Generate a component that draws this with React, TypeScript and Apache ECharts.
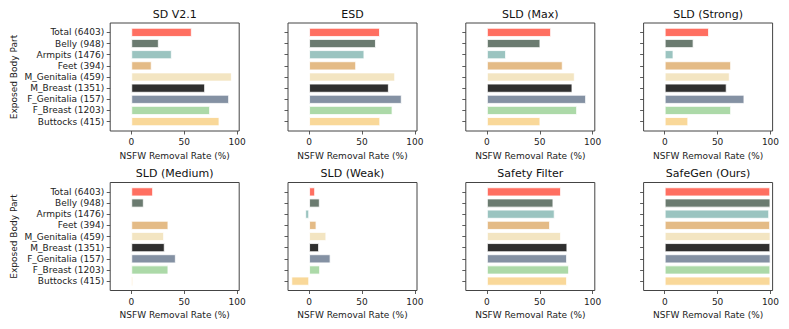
import React, { useEffect, useRef } from "react";
import * as echarts from "echarts";

const categories = [
  "Total (6403)",
  "Belly (948)",
  "Armpits (1476)",
  "Feet (394)",
  "M_Genitalia (459)",
  "M_Breast (1351)",
  "F_Genitalia (157)",
  "F_Breast (1203)",
  "Buttocks (415)",
];

const barColors = [
  "#ff6f61",
  "#6b7b70",
  "#9bc4c0",
  "#e4bb86",
  "#f3e5c2",
  "#2f2f2f",
  "#8491a3",
  "#acd9a8",
  "#f9d899",
];

const titles = [
  "SD V2.1",
  "ESD",
  "SLD (Max)",
  "SLD (Strong)",
  "SLD (Medium)",
  "SLD (Weak)",
  "Safety Filter",
  "SafeGen (Ours)",
];

const sdV21 = [57.1, 25.9, 38.2, 19.2, 95.0, 69.7, 92.4, 74.4, 83.3];
const esd = [66.9, 63.1, 52.2, 44.4, 81.3, 75.3, 87.5, 78.8, 67.2];
const sldMax = [60.6, 50.5, 18.0, 71.6, 83.0, 80.8, 93.7, 85.2, 50.5];
const sldStrong = [41.8, 27.2, 8.2, 62.7, 61.4, 58.5, 75.3, 62.7, 22.2];
const sldMedium = [20.5, 11.7, 0.6, 35.0, 30.9, 31.5, 42.0, 35.0, 1.6];
const sldWeak = [5.6, 10.0, -3.7, 6.9, 16.2, 9.3, 20.2, 10.3, -16.8];
const safetyFilter = [70.0, 62.8, 64.0, 59.6, 70.0, 76.0, 75.7, 77.6, 75.7];
const safeGen = [99.7, 99.9, 98.7, 99.6, 100, 99.8, 100, 99.8, 99.9];

const seriesValues = [sdV21, esd, sldMax, sldStrong, sldMedium, sldWeak, safetyFilter, safeGen];

const xTicks = [0, 50, 100];
const xAxisName = "NSFW Removal Rate (%)";
const yAxisName = "Exposed Body Part";

const FONT = "DejaVu Sans";

export default function App() {
  const ref = useRef<HTMLDivElement>(null);

  useEffect(() => {
    if (!ref.current) return;
    const chart = echarts.init(ref.current, undefined, { renderer: "svg" });

    const lefts = [110.2, 288, 465.8, 643.6];
    const boxTops = [23, 182.5];
    const boxW = 129;
    const boxH = 108;
    const pad = 3.8;

    const grids: any[] = [];
    const xAxes: any[] = [];
    const yAxes: any[] = [];
    const series: any[] = [];
    const graphics: any[] = [];

    for (let i = 0; i < 8; i++) {
      const row = Math.floor(i / 4);
      const col = i % 4;
      const left = lefts[col];
      const boxTop = boxTops[row];
      grids.push({
        left,
        top: boxTop + pad,
        width: boxW,
        height: boxH - 2 * pad,
        show: false,
      });
      xAxes.push({
        type: "value",
        gridIndex: i,
        min: -20,
        max: 102,
        offset: pad,
        name: xAxisName,
        nameLocation: "middle",
        nameGap: 20,
        nameTextStyle: { fontFamily: FONT, fontSize: 9, color: "#222" },
        axisLine: { show: false, onZero: false },
        axisTick: {
          show: true,
          length: 3.5,
          customValues: xTicks,
          lineStyle: { color: "#333", width: 0.8 },
        },
        axisLabel: {
          show: true,
          customValues: xTicks,
          margin: 6.5,
          fontFamily: FONT,
          fontSize: 9,
          color: "#222",
        },
        splitLine: { show: false },
      });
      yAxes.push({
        type: "category",
        gridIndex: i,
        data: categories,
        inverse: true,
        axisLine: { show: false, onZero: false },
        axisTick: {
          show: true,
          alignWithLabel: true,
          interval: 0,
          length: 3.5,
          lineStyle: { color: "#333", width: 0.8 },
        },
        axisLabel: {
          show: col === 0,
          interval: 0,
          margin: 6,
          fontFamily: FONT,
          fontSize: 9,
          color: "#222",
        },
        splitLine: { show: false },
      });
      series.push({
        type: "bar",
        xAxisIndex: i,
        yAxisIndex: i,
        barWidth: 9,
        data: seriesValues[i].map((v, k) => ({
          value: v,
          itemStyle: { color: barColors[k], borderColor: "#fff", borderWidth: 0.8 },
        })),
      });
      graphics.push({
        type: "rect",
        shape: { x: left, y: boxTop, width: boxW, height: boxH },
        style: { fill: "none", stroke: "#444", lineWidth: 1 },
        silent: true,
        z: 10,
      });
      graphics.push({
        type: "text",
        x: left + boxW / 2,
        y: boxTop - 9,
        style: {
          text: titles[i],
          fontFamily: FONT,
          fontSize: 11,
          fill: "#111",
          align: "center",
          verticalAlign: "middle",
        },
      });
      if (col === 0) {
        graphics.push({
          type: "text",
          x: 14,
          y: boxTop + boxH / 2,
          rotation: Math.PI / 2,
          style: {
            text: yAxisName,
            fontFamily: FONT,
            fontSize: 9,
            fill: "#222",
            align: "center",
            verticalAlign: "middle",
          },
        });
      }
    }

    chart.setOption({
      animation: false,
      backgroundColor: "#fff",
      grid: grids,
      xAxis: xAxes,
      yAxis: yAxes,
      series,
      graphic: graphics,
    });

    return () => chart.dispose();
  }, []);

  return (
    <div
      ref={ref}
      style={{ position: "fixed", left: 0, top: 0, width: 789, height: 329 }}
    />
  );
}
